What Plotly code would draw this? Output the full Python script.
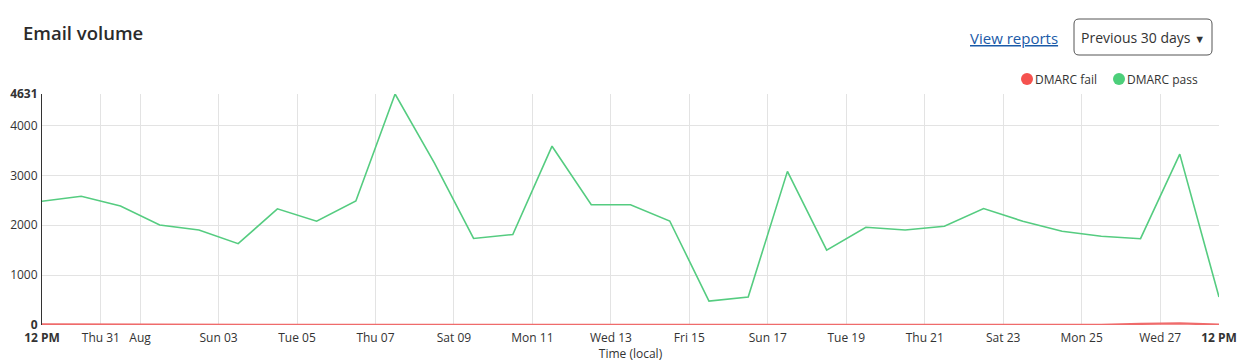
import plotly.graph_objects as go
import pandas as pd

# ---- data ----
start = pd.Timestamp("2025-07-29 12:00")
dates = [start + pd.Timedelta(days=i) for i in range(31)]
dmarc_pass = [2480, 2580, 2385, 2005, 1905, 1630, 2330, 2080, 2485, 4631,
              3250, 1735, 1815, 3585, 2410, 2410, 2085, 480, 560, 3080,
              1500, 1960, 1905, 1980, 2335, 2080, 1880, 1780, 1730, 3425, 560]
dmarc_fail = [12, 8, 5, 3, 4, 3, 2, 3, 4, 10, 8, 6, 4, 3, 5, 4, 3, 2, 2, 4,
              3, 3, 2, 3, 4, 3, 3, 4, 22, 32, 8]

x_tickvals = ["2025-07-29 12:00", "2025-07-31", "2025-08-01", "2025-08-03",
              "2025-08-05", "2025-08-07", "2025-08-09", "2025-08-11",
              "2025-08-13", "2025-08-15", "2025-08-17", "2025-08-19",
              "2025-08-21", "2025-08-23", "2025-08-25", "2025-08-27",
              "2025-08-28 12:00"]
x_ticktext = ["<b>12 PM</b>", "Thu 31", "Aug", "Sun 03", "Tue 05", "Thu 07",
              "Sat 09", "Mon 11", "Wed 13", "Fri 15", "Sun 17", "Tue 19",
              "Thu 21", "Sat 23", "Mon 25", "Wed 27", "<b>12 PM</b>"]
y_tickvals = [0, 1000, 2000, 3000, 4000, 4631]
y_ticktext = ["<b>0</b>", "1000", "2000", "3000", "4000", "<b>4631</b>"]

GREEN = "#55cc80"
RED = "#ef6b6b"
FAIL_DOT = "#f5524f"
PASS_DOT = "#4ccf7a"
FONT = "Open Sans"

# pixel -> paper helpers (plot area: x 42..1219, y 94..325)
def px(x):
    return (x - 42) / 1177.0

def py(y):
    return (325 - y) / 231.0

fig = go.Figure()
fig.add_trace(go.Scatter(x=dates, y=dmarc_pass, mode="lines", name="DMARC pass",
                         line=dict(color=GREEN, width=1.6), showlegend=False))
fig.add_trace(go.Scatter(x=dates, y=dmarc_fail, mode="lines", name="DMARC fail",
                         line=dict(color=RED, width=2.2), showlegend=False))
# legend entries (symbols drawn as dots next to the text)
fig.add_trace(go.Scatter(x=[None], y=[None], mode="markers", name="DMARC fail",
                         marker=dict(color="rgba(0,0,0,0)", size=1),
                         legend="legend"))
fig.add_trace(go.Scatter(x=[None], y=[None], mode="markers", name="DMARC pass",
                         marker=dict(color="rgba(0,0,0,0)", size=1),
                         legend="legend2"))

legend_style = dict(orientation="h", xanchor="left", yanchor="middle",
                    font=dict(size=12, color="#333333"), itemwidth=30,
                    bgcolor="rgba(0,0,0,0)", borderwidth=0)

fig.update_layout(
    width=1244, height=362,
    margin=dict(l=42, r=25, t=94, b=37, autoexpand=False),
    paper_bgcolor="white", plot_bgcolor="white",
    font=dict(family=FONT, size=12, color="#333333"),
    showlegend=True,
    legend=dict(x=px(995), y=py(79), **legend_style),
    legend2=dict(x=px(1087), y=py(79), **legend_style),
    xaxis=dict(type="date", range=[dates[0], dates[-1]], automargin=False,
               tickmode="array", tickvals=x_tickvals, ticktext=x_ticktext,
               showgrid=True, gridcolor="#e3e3e3", gridwidth=1,
               showline=False, zeroline=False, ticks="", ticklabelstandoff=4,
               tickfont=dict(size=12, color="#333333"),
               title=dict(text="Time (local)", font=dict(size=12, color="#333333"),
                          standoff=4)),
    yaxis=dict(range=[0, 4631], tickmode="array", tickvals=y_tickvals,
               automargin=False,
               ticktext=y_ticktext, showgrid=True, gridcolor="#e3e3e3",
               gridwidth=1, showline=True, linecolor="#333333", linewidth=1,
               zeroline=False, ticks="", ticklabelstandoff=1,
               tickfont=dict(size=12, color="#333333")),
)

# legend dots
for cx, col in [(1027, FAIL_DOT), (1119, PASS_DOT)]:
    fig.add_shape(type="circle", xref="paper", yref="paper",
                  x0=px(cx - 6), x1=px(cx + 6), y0=py(79 + 6), y1=py(79 - 6),
                  line=dict(width=0), fillcolor=col)

# title
fig.add_annotation(text="Email volume", xref="paper", yref="paper",
                   x=px(21), y=py(33), xanchor="left", yanchor="middle",
                   showarrow=False,
                   font=dict(family=FONT, size=18.5, color="#2b2b2b", weight=600))
# link
fig.add_annotation(text="<u>View reports</u>", xref="paper", yref="paper",
                   x=px(1014), y=py(38), xanchor="center", yanchor="middle",
                   showarrow=False,
                   font=dict(family=FONT, size=15, color="#1a5aa8"))
# dropdown button
x0, x1, y0, y1 = px(1074), px(1212), py(19), py(55)
rx, ry = 5 / 1177.0, 5 / 231.0
path = (f"M {x0+rx},{y0} L {x1-rx},{y0} Q {x1},{y0} {x1},{y0-ry} "
        f"L {x1},{y1+ry} Q {x1},{y1} {x1-rx},{y1} L {x0+rx},{y1} "
        f"Q {x0},{y1} {x0},{y1+ry} L {x0},{y0-ry} Q {x0},{y0} {x0+rx},{y0} Z")
fig.add_shape(type="path", path=path, xref="paper", yref="paper",
              line=dict(color="#555555", width=1), fillcolor="white")
fig.add_annotation(text='Previous 30 days <span style="font-size:11px">▼</span>',
                   xref="paper", yref="paper",
                   x=px(1143), y=py(37), xanchor="center", yanchor="middle",
                   showarrow=False,
                   font=dict(family=FONT, size=14, color="#333333"))

fig.write_html("out.html", config={"displayModeBar": False},
               post_script="document.body.style.margin='0';"
                           "document.body.style.overflow='hidden';")
